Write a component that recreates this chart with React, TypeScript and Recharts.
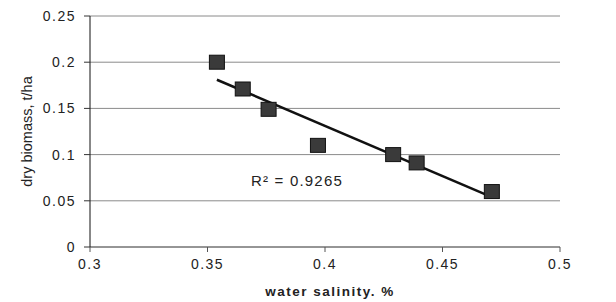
import React from 'react';
import { ScatterChart, Scatter, XAxis, YAxis, CartesianGrid, ReferenceDot } from 'recharts';

const salinity = [0.354, 0.365, 0.376, 0.397, 0.429, 0.439, 0.471];
const biomass = [0.2, 0.171, 0.149, 0.11, 0.1, 0.091, 0.06];
const trendX = [0.354, 0.471];
const trendY = [0.181, 0.054];
const xTicks = [0.3, 0.35, 0.4, 0.45, 0.5];
const yTicks = [0, 0.05, 0.1, 0.15, 0.2, 0.25];
const rSquaredLabel = 'R² = 0.9265';

const points = salinity.map((x, i) => ({ x, y: biomass[i] }));
const trend = trendX.map((x, i) => ({ x, y: trendY[i] }));

const Square = (props: any) => {
  const { cx, cy } = props;
  return <rect x={cx - 7.5} y={cy - 7} width={15} height={14} fill="#3a3a3a" stroke="#111" strokeWidth={1} />;
};

const font = 'Arial, "Liberation Sans", sans-serif';
const tickStyle = { fontSize: 14, fill: '#222', fontFamily: font, letterSpacing: 1.5 };

const RLabel = (props: any) => {
  const { viewBox } = props;
  if (!viewBox) return null;
  return (
    <text x={viewBox.x} y={viewBox.y} dy={5} fontSize={15} fill="#222" fontFamily={font} letterSpacing={1.2}>
      {rSquaredLabel}
    </text>
  );
};

export default function App() {
  return (
    <div style={{ position: 'absolute', left: 0, top: 0, width: 616, height: 302, background: '#fff' }}>
      <ScatterChart width={616} height={302} margin={{ top: 16, right: 56, bottom: 25, left: 0 }}>
        <CartesianGrid horizontal vertical={false} stroke="#8a8a8a" strokeWidth={1} />
        <XAxis
          type="number"
          dataKey="x"
          domain={[0.3, 0.5]}
          ticks={xTicks}
          height={30}
          tick={tickStyle}
          tickLine={{ stroke: '#555' }}
          axisLine={{ stroke: '#666' }}
          tickSize={5}
          tickMargin={7}
          label={{ value: 'water salinity. %', position: 'insideBottom', offset: -19, dx: 5, style: { fontSize: 13.5, fontWeight: 'bold', fill: '#222', fontFamily: font, letterSpacing: 1.5 } }}
        />
        <YAxis
          type="number"
          dataKey="y"
          domain={[0, 0.25]}
          ticks={yTicks}
          width={90}
          tick={tickStyle}
          tickLine={{ stroke: '#333' }}
          axisLine={{ stroke: '#111' }}
          tickSize={6}
          tickMargin={8}
          label={{ value: 'dry biomass, t/ha', angle: -90, position: 'insideLeft', offset: 27, style: { textAnchor: 'middle', fontSize: 14.5, fill: '#222', fontFamily: font } }}
        />
        <Scatter data={trend} line={{ stroke: '#111', strokeWidth: 2.5 }} shape={() => null} isAnimationActive={false} />
        <Scatter data={points} shape={<Square />} isAnimationActive={false} />
        <ReferenceDot x={0.3685} y={0.0715} r={0} fill="none" stroke="none" label={<RLabel />} />
      </ScatterChart>
    </div>
  );
}
